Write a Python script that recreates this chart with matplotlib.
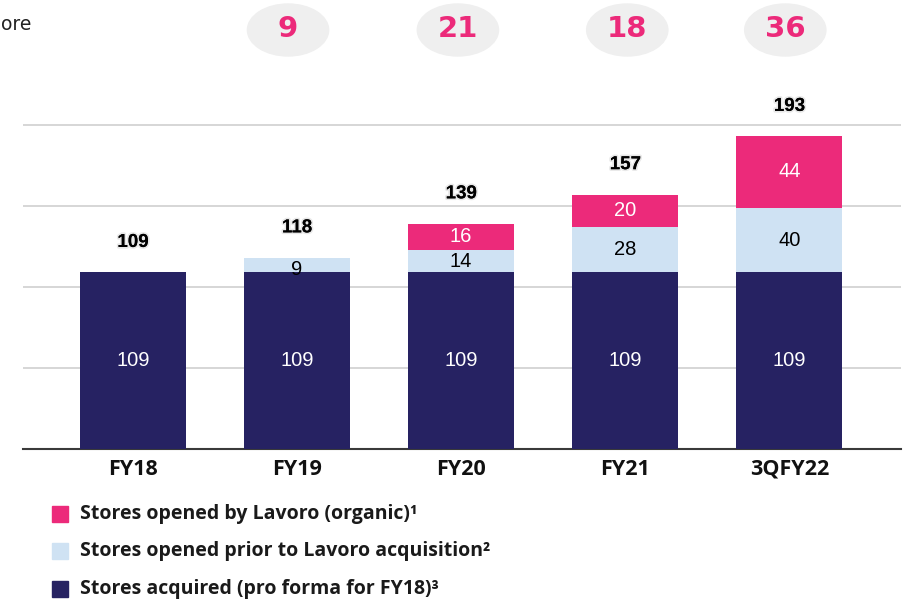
import matplotlib
matplotlib.use("Agg")
import matplotlib.pyplot as plt
import matplotlib.patheffects as pe
from matplotlib.patches import Ellipse, Rectangle
from matplotlib.transforms import blended_transform_factory

categories = ["FY18", "FY19", "FY20", "FY21", "3QFY22"]
acquired = [109, 109, 109, 109, 109]
prior = [0, 9, 14, 28, 40]
organic = [0, 0, 16, 20, 44]
totals = [109, 118, 139, 157, 193]
increments = [9, 21, 18, 36]
legend_labels = ["Stores opened by Lavoro (organic)¹",
                 "Stores opened prior to Lavoro acquisition²",
                 "Stores acquired (pro forma for FY18)³"]

NAVY = "#262262"
LIGHT = "#CFE2F3"
PINK = "#EC2A7A"
ARIAL = "Liberation Sans"

fig = plt.figure(figsize=(9.11, 6.01), dpi=100)
ax = fig.add_axes([23/911, 1-449/601, (901-23)/911, (449-90)/601])

x = list(range(len(categories)))
w = 0.646
ax.bar(x, acquired, width=w, color=NAVY, zorder=3)
ax.bar(x, prior, width=w, bottom=acquired, color=LIGHT, zorder=3)
bott2 = [a + b for a, b in zip(acquired, prior)]
ax.bar(x, organic, width=w, bottom=bott2, color=PINK, zorder=3)

for i in x:
    ax.text(i, acquired[i] / 2, str(acquired[i]), ha="center", va="center",
            color="white", fontsize=14.5, family=ARIAL, zorder=4)
    if prior[i]:
        ax.text(i, acquired[i] + prior[i] / 2 - (2.5 if prior[i] < 12 else 0), str(prior[i]),
                ha="center", va="center", color="black", fontsize=14.5, family=ARIAL, zorder=4)
    if organic[i]:
        ax.text(i, bott2[i] + organic[i] / 2, str(organic[i]), ha="center", va="center",
                color="white", fontsize=14.5, family=ARIAL, zorder=4)
    t = ax.text(i, totals[i] + 18.5, str(totals[i]), ha="center", va="center",
                color="black", fontsize=13.5, fontweight="bold", family=ARIAL, zorder=4)
    t.set_path_effects([pe.withStroke(linewidth=2.5, foreground="#E8E8E8"),
                        pe.Normal()])

ax.set_xlim(-0.67, 4.68)
ax.set_ylim(0, 221.6)
ax.set_yticks([50, 100, 150, 200])
ax.yaxis.grid(True, color="#D3D3D3", linewidth=1.3, zorder=0)
ax.set_axisbelow(True)
ax.tick_params(axis="y", left=False, labelleft=False)
ax.tick_params(axis="x", length=0, pad=7)
ax.set_xticks(x)
ax.set_xticklabels(categories, fontsize=15.5, fontweight="bold", family="Open Sans",
                   color="#111111")
for s in ["top", "right", "left"]:
    ax.spines[s].set_visible(False)
ax.spines["bottom"].set_color("#3A3A3A")
ax.spines["bottom"].set_linewidth(1.5)

# increments bubbles on top
tr = blended_transform_factory(ax.transData, fig.transFigure)
offsets = [-0.055, -0.02, 0.012, -0.025]
for k, inc in enumerate(increments):
    cx = k + 1 + offsets[k]
    e = Ellipse((cx, 1 - 30/601), 0.495, 52/601, transform=tr, color="#EFEFEF",
                clip_on=False, zorder=1)
    fig.add_artist(e)
    fig.text(cx, 1 - 29/601, str(inc), transform=tr, ha="center", va="center",
             color=PINK, fontsize=21, fontweight="bold")

fig.text(31/911, 1 - 25/601, "ore", ha="right", va="center", fontsize=13.5, color="#222222")

# legend
colors = [PINK, LIGHT, NAVY]
rows = [514, 551, 589]
for c, lab, yy in zip(colors, legend_labels, rows):
    fig.add_artist(Rectangle((52/911, 1 - (yy + 8)/601), 16/911, 16/601,
                             transform=fig.transFigure, color=c))
    fig.text(80/911, 1 - yy/601, lab, ha="left", va="center", fontsize=14,
             fontweight="bold", family="Open Sans", color="#1A1A1A")

fig.savefig("out.png", dpi=100)
